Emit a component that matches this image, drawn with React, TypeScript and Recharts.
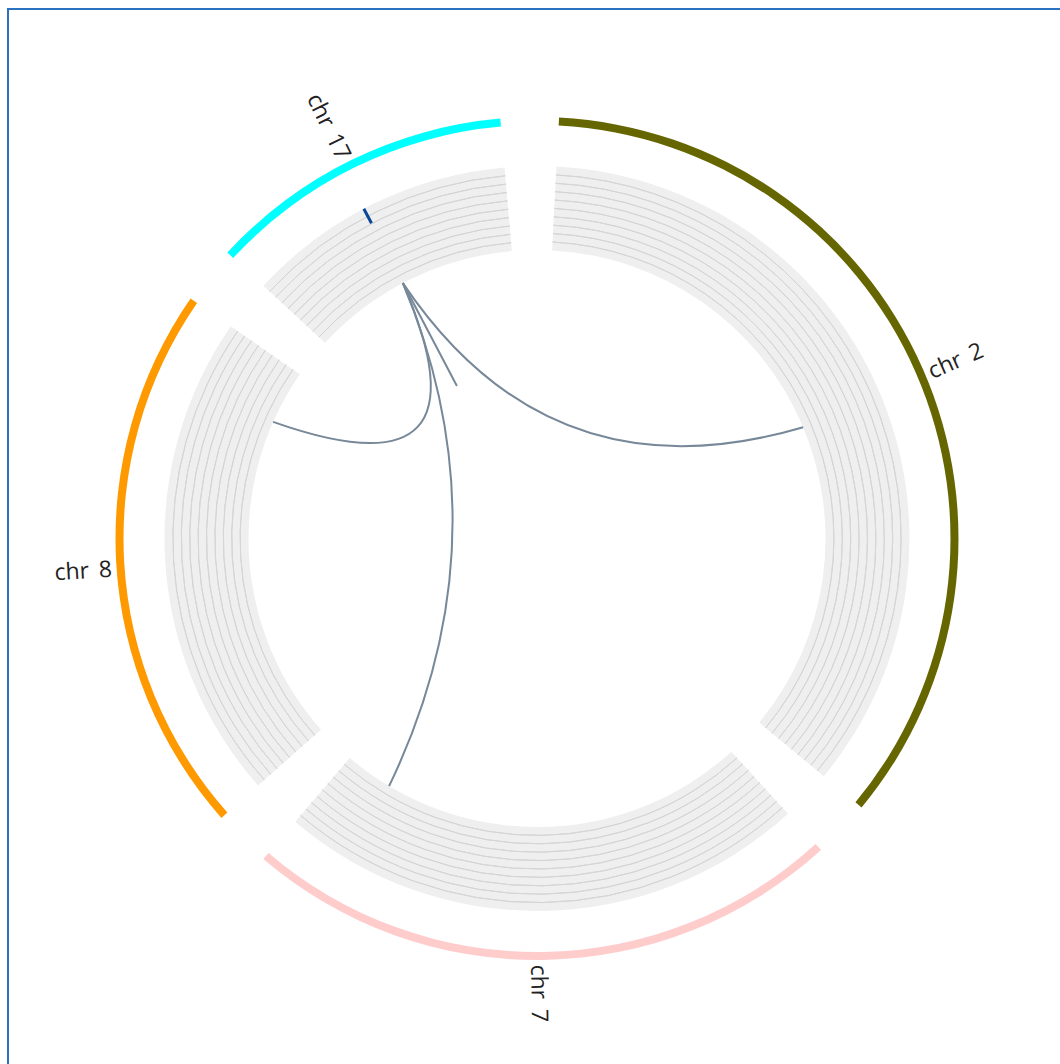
import React from 'react';
import { PieChart, Pie, Cell } from 'recharts';

// chromosomes, clockwise from the top (sizes in Mb)
const chromosomes = ['chr 2', 'chr 7', 'chr 8', 'chr 17'];
const chromosomeSizes = [243.2, 159.1, 146.4, 81.2];
const chromosomeColors = ['#666600', '#ffcccc', '#ff9900', '#00ffff'];

// links all start from one locus on chr 17
const linkSourceChr = 'chr 17';
const linkSourcePos = 37.6;
const linkTargetChrs = ['chr 2', 'chr 8', 'chr 7', 'chr 17'];
const linkTargetPos = [123.5, 125.5, 140.6, 37.6];

// highlighted locus on the track
const highlightChr = 'chr 17';
const highlightPos = 37.6;

const trackLines = 9;

const CX = 528;
const CY = 528.5;
const GAP = 8;
const START = 3; // degrees clockwise from 12 o'clock
const RING_IN = 413.5;
const RING_OUT = 421.5;
const TRACK_IN = 288.5;
const TRACK_OUT = 372.5;

const ideogram = chromosomes.map((name, i) => ({ name, size: chromosomeSizes[i] }));
const totalSize = chromosomeSizes.reduce((a, b) => a + b, 0);
const degPerMb = (360 - GAP * chromosomes.length) / totalSize;

function angleOf(chr: string, pos: number) {
  const idx = chromosomes.indexOf(chr);
  let a = START;
  for (let i = 0; i < idx; i++) a += chromosomeSizes[i] * degPerMb + GAP;
  return a + pos * degPerMb;
}

function polar(theta: number, r: number) {
  const t = (theta * Math.PI) / 180;
  return { x: CX + r * Math.sin(t), y: CY - r * Math.cos(t) };
}

function renderLabel(props: any) {
  const { cx, cy, midAngle, index } = props;
  let theta = (90 - midAngle) % 360;
  if (theta < 0) theta += 360;
  const r = 426;
  const t = (theta * Math.PI) / 180;
  const x = cx + r * Math.sin(t);
  const y = cy - r * Math.cos(t);
  const flip = theta >= 180;
  const rot = flip ? theta - 270 : theta - 90;
  return (
    <text
      key={`label-${index}`}
      x={x}
      y={y}
      dy={4}
      transform={`rotate(${rot} ${x} ${y})`}
      textAnchor={flip ? 'end' : 'start'}
      dominantBaseline="central"
      fontSize={23}
      fontFamily="'Open Sans', 'Noto Sans', sans-serif"
      fill="#222"
      style={{ wordSpacing: 4 }}
    >
      {chromosomes[index]}
    </text>
  );
}

function Links() {
  const a0 = angleOf(linkSourceChr, linkSourcePos);
  const p0 = polar(a0, TRACK_IN);
  const hl = angleOf(highlightChr, highlightPos);
  const h0 = polar(hl, 356);
  const h1 = polar(hl, TRACK_OUT);
  return (
    <svg width={1060} height={1060} style={{ position: 'absolute', left: 0, top: 0, pointerEvents: 'none' }}>
      {linkTargetChrs.map((chr, i) => {
        const p1 = polar(angleOf(chr, linkTargetPos[i]), TRACK_IN);
        const kx = CX + 0.2 * ((p0.x + p1.x) / 2 - CX);
        const ky = CY + 0.2 * ((p0.y + p1.y) / 2 - CY);
        return (
          <path
            key={chr + i}
            d={`M${p0.x},${p0.y} Q${kx},${ky} ${p1.x},${p1.y}`}
            fill="none"
            stroke="#778899"
            strokeWidth={2}
          />
        );
      })}
      <line x1={h0.x} y1={h0.y} x2={h1.x} y2={h1.y} stroke="#0a4797" strokeWidth={3} />
    </svg>
  );
}

export default function App() {
  const step = (TRACK_OUT - TRACK_IN) / (trackLines + 1);
  const lineRadii = Array.from({ length: trackLines }, (_, i) => TRACK_IN + step * (i + 1));
  const noMargin = { top: 0, right: 0, bottom: 0, left: 0 };
  return (
    <div style={{ position: 'absolute', left: 0, top: 0, width: 1060, height: 1064, overflow: 'hidden', background: '#fff' }}>
      <div style={{ position: 'absolute', left: 7, top: 8, width: 1100, height: 1100, border: '2px solid #2b72c2' }}>
        <div style={{ position: 'relative', width: 1060, height: 1060 }}>
          <PieChart width={1060} height={1060} margin={noMargin}>
            <Pie
              data={ideogram}
              dataKey="size"
              cx={CX}
              cy={CY}
              startAngle={90 - START}
              endAngle={90 - START - 360}
              paddingAngle={GAP}
              innerRadius={TRACK_IN}
              outerRadius={TRACK_OUT}
              fill="#efefef"
              stroke="none"
              isAnimationActive={false}
            />
            {lineRadii.map((r) => (
              <Pie
                key={`track-${r}`}
                data={ideogram}
                dataKey="size"
                cx={CX}
                cy={CY}
                startAngle={90 - START}
                endAngle={90 - START - 360}
                paddingAngle={GAP}
                innerRadius={r}
                outerRadius={r}
                fill="none"
                stroke="#d5d5d5"
                strokeWidth={1}
                isAnimationActive={false}
              />
            ))}
            <Pie
              data={ideogram}
              dataKey="size"
              cx={CX}
              cy={CY}
              startAngle={90 - START}
              endAngle={90 - START - 360}
              paddingAngle={GAP}
              innerRadius={RING_IN}
              outerRadius={RING_OUT}
              stroke="none"
              label={renderLabel}
              labelLine={false}
              isAnimationActive={false}
            >
              {ideogram.map((d, i) => (
                <Cell key={d.name} fill={chromosomeColors[i]} />
              ))}
            </Pie>
          </PieChart>
          <Links />
        </div>
      </div>
    </div>
  );
}
